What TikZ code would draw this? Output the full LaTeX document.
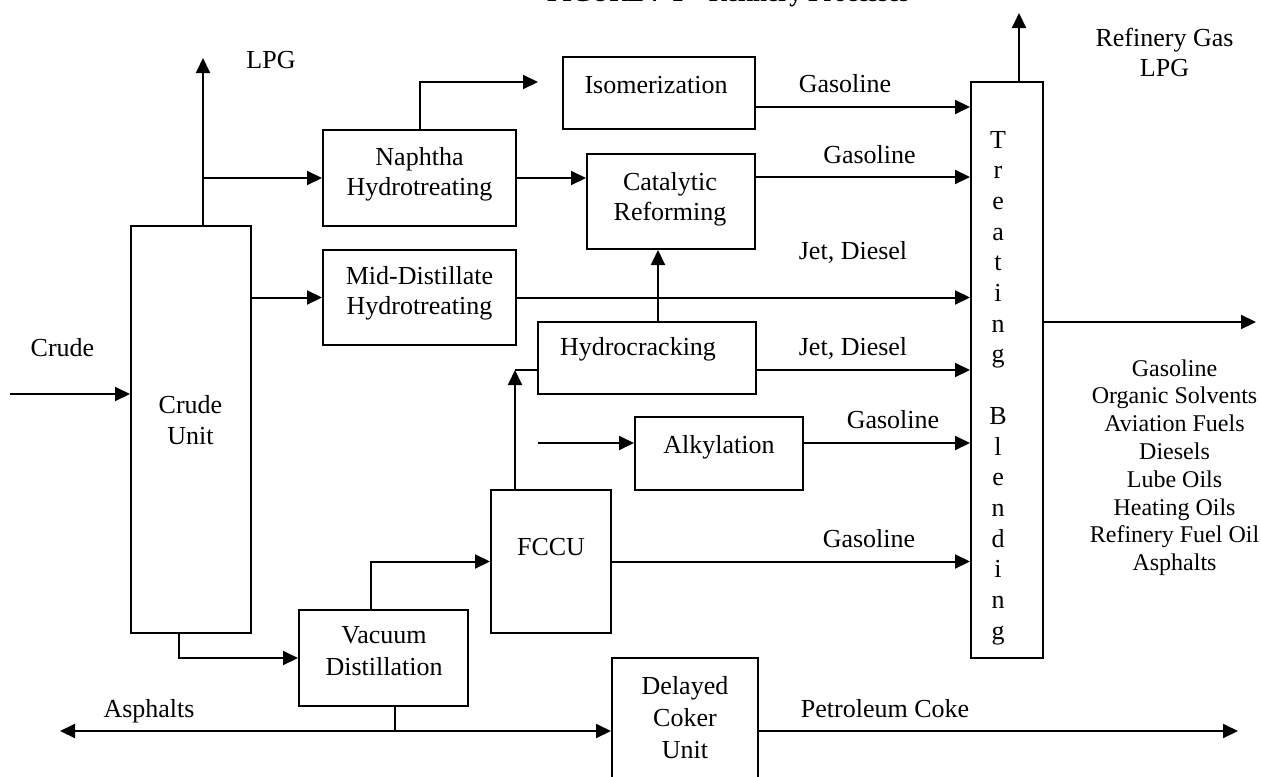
\documentclass[tikz,border=0pt]{standalone}
\usepackage{fontspec}
\setmainfont{Liberation Serif}
\usetikzlibrary{arrows.meta}
\begin{document}
\begin{tikzpicture}[x=0.5pt,y=-0.5pt,
  line width=1pt,
  >={Triangle[length=7.5pt,width=7pt]},
  box/.style={draw, line width=1pt, inner sep=0pt},
  lbl/.style={anchor=base, inner sep=0pt, font=\fontsize{13}{15}\selectfont},
  prod/.style={anchor=base, inner sep=0pt, font=\fontsize{12}{14}\selectfont},
  ttl/.style={anchor=base west, inner sep=0pt, font=\bfseries\fontsize{12.5}{15}\selectfont},
]
\useasboundingbox (0,0) rectangle (1261,776);

% title (runs past the top edge of the page)
\node[ttl] (title) at (546,2) {FIGURE 7-1\quad Refinery Processes};

% process units
\node[box, minimum width=60pt,   minimum height=203.5pt] (cu)    at (191,429.5) {};
\node[box, minimum width=96.5pt, minimum height=48pt]    (nap)   at (419.5,178) {};
\node[box, minimum width=96.5pt, minimum height=47.5pt]  (mid)   at (419.5,297.5) {};
\node[box, minimum width=96pt,   minimum height=36pt]    (iso)   at (659,93) {};
\node[box, minimum width=84pt,   minimum height=47.5pt]  (cat)   at (671,201.5) {};
\node[box, minimum width=109pt,  minimum height=36pt]    (hyd)   at (647,358) {};
\node[box, minimum width=84pt,   minimum height=36.5pt]  (alk)   at (719,453.5) {};
\node[box, minimum width=60pt,   minimum height=71.5pt]  (fccu)  at (551,561.5) {};
\node[box, minimum width=84.5pt, minimum height=48pt]    (vac)   at (383.5,658) {};
\node[box, minimum width=73pt,   minimum height=73pt]    (coker) at (685,731) {};
\node[box, minimum width=36pt,   minimum height=288pt]   (tb)    at (1007,370) {};

% unit names
\node[lbl] (cuA)  at (190.5,413) {Crude};
\node[lbl] (cuB)  at (190.5,444) {Unit};
\node[lbl] (napA) at (419.5,165) {Naphtha};
\node[lbl] (napB) at (419.5,195) {Hydrotreating};
\node[lbl] (midA) at (419.5,284) {Mid-Distillate};
\node[lbl] (midB) at (419.5,314) {Hydrotreating};
\node[lbl] (isoA) at (656,93)    {Isomerization};
\node[lbl] (catA) at (670,190)   {Catalytic};
\node[lbl] (catB) at (670,220)   {Reforming};
\node[lbl] (hydA) at (638,355)   {Hydrocracking};
\node[lbl] (alkA) at (719,453)   {Alkylation};
\node[lbl] (fccA) at (551,555)   {FCCU};
\node[lbl] (vacA) at (384,643)   {Vacuum};
\node[lbl] (vacB) at (384,675)   {Distillation};
\node[lbl] (cokA) at (685,694)   {Delayed};
\node[lbl] (cokB) at (685,726)   {Coker};
\node[lbl] (cokC) at (685,758)   {Unit};

% vertical "Treating Blending" lettering
\foreach \ch [count=\k from 0] in {T,r,e,a,t,i,n,g,{},B,l,e,n,d,i,n,g}
  \node[lbl] (tb\k) at (998,148+30.7*\k) {\ch};

% stream levels
\coordinate (yIso) at (0,107);
\coordinate (yCat) at (0,177);
\coordinate (yHyd) at (0,370);
\coordinate (xHC)  at (658,0);
\coordinate (xCV)  at (179,0);
\coordinate (xVF)  at (371,0);

% free ends of streams
\coordinate (crudein) at (10,394);
\coordinate (lpgend)  at (203,58);
\coordinate (isoin)   at (538,82);
\coordinate (fcup)    at (515,370);
\coordinate (alkin)   at (538,443);
\coordinate (asphend) at (60,731);
\coordinate (vacjoin) at (395,731);
\coordinate (cokeend) at (1238,731);
\coordinate (gasend)  at (1019,13);
\coordinate (prodend) at (1256,322);

% streams
\draw[->] (crudein) -- (crudein -| cu.west);
\draw[->] (lpgend |- cu.north) -- (lpgend);
\draw[->] (lpgend |- nap.west) -- (nap.west);
\draw[->] (cu.east |- mid.west) -- (mid.west);
\draw[->] (nap.north) |- (isoin);
\draw[->] (nap.east) -- (nap.east -| cat.west);
\draw[->] (iso.east |- yIso) -- (tb.west |- yIso);
\draw[->] (cat.east |- yCat) -- (tb.west |- yCat);
\draw[->] (mid.east) -- (mid.east -| tb.west);
\draw[->] (hyd.north -| xHC) -- (cat.south -| xHC);
\draw[->] (hyd.east |- yHyd) -- (tb.west |- yHyd);
\draw[->] (fcup |- fccu.north) -- (fcup);
\draw (fcup) -- (fcup -| hyd.west);
\draw[->] (alkin) -- (alkin -| alk.west);
\draw[->] (alk.east |- alkin) -- (tb.west |- alkin);
\draw[->] (fccu.east) -- (fccu.east -| tb.west);
\draw[->] (xCV |- cu.south) |- (vac.west);
\draw[->] (xVF |- vac.north) |- (fccu.west);
\draw (vacjoin |- vac.south) -- (vacjoin);
\draw[<->] (asphend) -- (coker.west);
\draw[->] (coker.east) -- (cokeend);
\draw[->] (gasend |- tb.north) -- (gasend);
\draw[->] (prodend -| tb.east) -- (prodend);

% stream labels
\node[lbl] (lLPG)  at (271,68)    {LPG};
\node[lbl] (lCru)  at (62.5,356)  {Crude};
\node[lbl] (lGas1) at (845,92)    {Gasoline};
\node[lbl] (lGas2) at (869.5,163) {Gasoline};
\node[lbl] (lJet1) at (853,259)   {Jet, Diesel};
\node[lbl] (lJet2) at (853,355)   {Jet, Diesel};
\node[lbl] (lGas3) at (893,428)   {Gasoline};
\node[lbl] (lGas4) at (869,547)   {Gasoline};
\node[lbl] (lAsp)  at (149,717)   {Asphalts};
\node[lbl] (lCoke) at (885,717)   {Petroleum Coke};
\node[lbl] (lRG)   at (1164.5,46) {Refinery Gas};
\node[lbl] (lLPG2) at (1164.5,76) {LPG};

% finished products
\foreach \p [count=\k from 0] in {Gasoline,Organic Solvents,Aviation Fuels,Diesels,Lube Oils,Heating Oils,Refinery Fuel Oil,Asphalts}
  \node[prod] (prod\k) at (1174.5,376+27.8*\k) {\p};
\end{tikzpicture}
\end{document}
